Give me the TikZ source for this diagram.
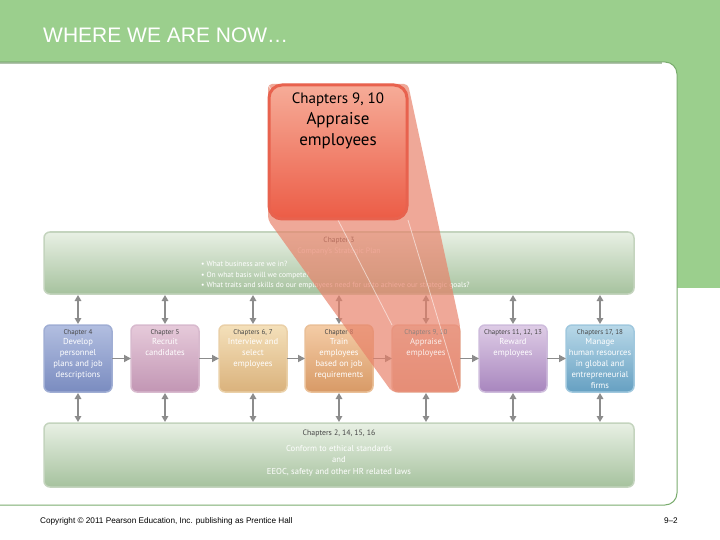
\documentclass[tikz,border=0pt]{standalone}
\usepackage{fontspec}
\setmainfont{PT Sans}
\newfontfamily\arialf{Liberation Sans}
\usetikzlibrary{arrows.meta,shadings}
\definecolor{bg}{RGB}{155,207,141}
\definecolor{panelline}{RGB}{122,172,110}
\definecolor{bandtop}{RGB}{232,240,228}
\definecolor{bandbot}{RGB}{166,194,158}
\definecolor{bandborder}{RGB}{196,212,190}
\definecolor{cfourtop}{RGB}{178,190,224}
\definecolor{cfourbot}{RGB}{122,140,192}
\definecolor{cfourbd}{RGB}{160,174,212}
\definecolor{cfivetop}{RGB}{230,202,218}
\definecolor{cfivebot}{RGB}{194,150,180}
\definecolor{cfivebd}{RGB}{216,186,206}
\definecolor{csixtop}{RGB}{244,224,186}
\definecolor{csixbot}{RGB}{218,178,124}
\definecolor{csixbd}{RGB}{234,208,168}
\definecolor{ceighttop}{RGB}{244,204,166}
\definecolor{ceightbot}{RGB}{216,154,102}
\definecolor{ceightbd}{RGB}{234,192,152}
\definecolor{cninetop}{RGB}{238,210,196}
\definecolor{cninebot}{RGB}{226,170,150}
\definecolor{cninebd}{RGB}{236,196,180}
\definecolor{celeventop}{RGB}{222,204,230}
\definecolor{celevenbot}{RGB}{168,134,190}
\definecolor{celevenbd}{RGB}{206,188,220}
\definecolor{cseventop}{RGB}{184,216,232}
\definecolor{csevenbot}{RGB}{102,160,194}
\definecolor{csevenbd}{RGB}{160,200,222}
\definecolor{arrgray}{RGB}{140,140,140}
\definecolor{hdgray}{RGB}{70,70,70}
\definecolor{funnel}{RGB}{232,128,104}
\definecolor{bigtop}{RGB}{246,172,152}
\definecolor{bigmid}{RGB}{241,116,92}
\definecolor{bigbot}{RGB}{236,92,70}
\definecolor{bigbd}{RGB}{232,98,78}
\newcommand{\hd}{\color{hdgray}\fontsize{7}{10.8}\selectfont}
\begin{document}
\begin{tikzpicture}[x=1pt,y=-1pt,
  box/.style={rounded corners=6pt, line width=1.5pt, minimum width=68pt, minimum height=67pt,
    anchor=north west, inner sep=0pt, outer sep=0pt},
  band/.style={rounded corners=6pt, line width=1.5pt, draw=bandborder, top color=bandtop,
    bottom color=bandbot, minimum width=590pt, anchor=north west, inner sep=0pt, outer sep=0pt},
  btxt/.style={anchor=north, align=center, inner sep=0pt, text=white,
    font=\fontsize{8.6}{10.8}\selectfont},
  harrow/.style={draw=arrgray, line width=1.7pt, -{Triangle[length=7pt,width=7pt]}},
  varrow/.style={draw=arrgray, line width=1.7pt,
    {Triangle[length=6pt,width=6.5pt]}-{Triangle[length=6pt,width=6.5pt]}},
  edgeline/.style={draw=white, opacity=0.55, line width=0.8pt}
]
\useasboundingbox (0,0) rectangle (720,540);
% background
\fill[bg] (0,0) rectangle (720,62);
\fill[bg] (660,0) rectangle (720,288);
\fill[white, rounded corners=12pt] (-30,62) -- (677,62) -- (677,505) -- (-30,505) -- cycle;
\draw[panelline, line width=1pt, rounded corners=12pt] (-30,62) -- (677,62) -- (677,505) -- (-30,505);
\draw[panelline!80!black, line width=1.5pt, opacity=0.5] (0,63) -- (662,63);
\node[anchor=west, text=white, inner sep=0pt, font=\arialf\fontsize{21}{24}\selectfont] (title) at (43,35) {WHERE WE ARE NOW…};

% bands
\node[band, minimum height=62pt] (c3) at (44,232) {};
\node[anchor=north, align=center, inner sep=0pt, text=white, font=\fontsize{7.8}{11}\selectfont] (c3t)
  at ([yshift=-5pt]c3.north) {{\hd\fontsize{7.5}{11}\selectfont Chapter 3}\\ Company's Strategic Plan};
\node[anchor=north west, align=left, inner sep=0pt, text=white, font=\fontsize{7.5}{10.5}\selectfont] (c3b)
  at (201,261) {• What business are we in?\\ • On what basis will we compete?\\
  • What traits and skills do our employees need for us to achieve our strategic goals?};

\node[band, minimum height=64pt] (bb) at (44,423) {};
\node[anchor=north, align=center, inner sep=0pt, text=white, font=\fontsize{8.6}{11.5}\selectfont] (bbt)
  at ([yshift=-7pt]bb.north) {{\hd\fontsize{7.8}{11.5}\selectfont Chapters 2, 14, 15, 16}\\[4pt] Conform to ethical standards\\ and\\
  EEOC, safety and other HR related laws};

% small boxes
\node[box, draw=cfourbd, top color=cfourtop, bottom color=cfourbot] (c4) at (44,325) {};
\node[box, draw=cfivebd, top color=cfivetop, bottom color=cfivebot] (c5) at (131,325) {};
\node[box, draw=csixbd, top color=csixtop, bottom color=csixbot] (c6) at (219,325) {};
\node[box, draw=ceightbd, top color=ceighttop, bottom color=ceightbot] (c8) at (305,325) {};
\node[box, draw=cninebd, top color=cninetop, bottom color=cninebot] (c9) at (392,325) {};
\node[box, draw=celevenbd, top color=celeventop, bottom color=celevenbot] (c11) at (479,325) {};
\node[box, draw=csevenbd, top color=cseventop, bottom color=csevenbot] (c17) at (566,325) {};

\node[btxt] (c4t) at ([yshift=-4pt]c4.north) {{\hd Chapter 4}\\ Develop\\ personnel\\ plans and job\\ descriptions};
\node[btxt] (c5t) at ([yshift=-4pt]c5.north) {{\hd Chapter 5}\\ Recruit\\ candidates};
\node[btxt] (c6t) at ([yshift=-4pt]c6.north) {{\hd Chapters 6, 7}\\ Interview and\\ select\\ employees};
\node[btxt] (c8t) at ([yshift=-4pt]c8.north) {{\hd Chapter 8}\\ Train\\ employees\\ based on job\\ requirements};
\node[btxt] (c11t) at ([yshift=-4pt]c11.north) {{\hd Chapters 11, 12, 13}\\ Reward\\ employees};
\node[btxt] (c17t) at ([yshift=-4pt]c17.north) {{\hd Chapters 17, 18}\\ Manage\\ human resources\\ in global and\\ entrepreneurial\\ firms};

% arrows
\draw[harrow] (c4.east) -- (c5.west);
\draw[harrow] (c5.east) -- (c6.west);
\draw[harrow] (c6.east) -- (c8.west);
\draw[harrow] (c8.east) -- (c9.west);
\draw[harrow] (c9.east) -- (c11.west);
\draw[harrow] (c11.east) -- (c17.west);
\foreach \n in {c4,c5,c6,c8,c9,c11,c17}{
  \draw[varrow] ([yshift=-1pt]c3.south -| \n.north) -- ([yshift=1pt]\n.north);
  \draw[varrow] ([yshift=-1pt]\n.south) -- ([yshift=1pt]\n.south |- bb.north);
}

% big box and funnel
\node[anchor=north west, minimum width=140pt, minimum height=136pt, inner sep=0pt, outer sep=0pt] (bigpos) at (268,84) {};
\fill[funnel, opacity=0.68, rounded corners=4pt] (bigpos.south west) -- (bigpos.north west) -- (bigpos.north east)
  -- (c9.north east) -- (c9.south east) -- (c9.south west) -- cycle;
\node[btxt, opacity=0.85] (c9t) at ([yshift=-4pt]c9.north) {{\color{hdgray!70!white}\fontsize{7}{10.8}\selectfont Chapters 9, 10}\\ Appraise\\ employees};
\draw[edgeline] (bigpos.north west) -- (c9.north west);
\draw[edgeline] (bigpos.south east) -- (c9.south east);
\node[anchor=north west, minimum width=138pt, minimum height=134pt, inner sep=0pt, outer sep=0pt,
  rounded corners=13pt, draw=bigbd, line width=3pt, top color=bigtop, middle color=bigmid, bottom color=bigbot]
  (big) at (269,85) {};
\node[anchor=north, align=center, inner sep=0pt, text=black, font=\fontsize{17}{21}\selectfont] (bigt)
  at ([yshift=-8pt]big.north) {{\fontsize{15}{21}\selectfont Chapters 9, 10}\\ Appraise\\ employees};

% footer
\node[anchor=west, inner sep=0pt, font=\arialf\fontsize{8.2}{10}\selectfont] (copy) at (40,521)
  {Copyright © 2011 Pearson Education, Inc. publishing as Prentice Hall};
\node[anchor=east, inner sep=0pt, font=\arialf\fontsize{8.2}{10}\selectfont] (pg) at (678,521) {9–2};
\end{tikzpicture}
\end{document}
